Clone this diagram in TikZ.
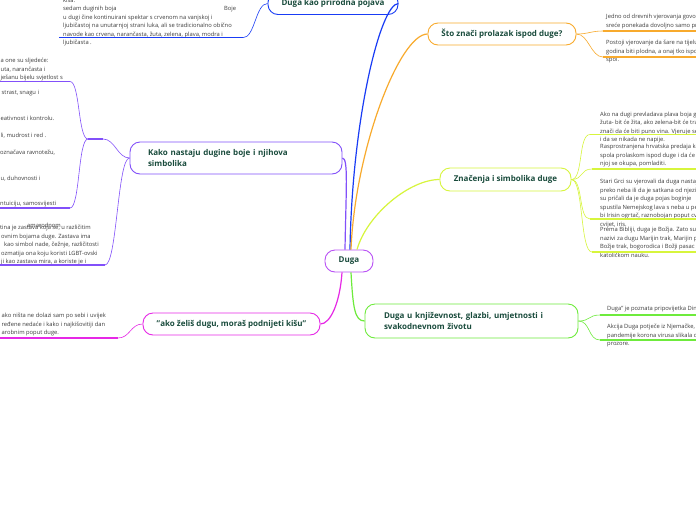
\documentclass[tikz,border=0pt]{standalone}
\usepackage{fontspec}
\setmainfont{Open Sans}
\definecolor{cblue}{RGB}{25,60,245}
\definecolor{cpurple}{RGB}{130,80,250}
\definecolor{corange}{RGB}{248,170,45}
\definecolor{cyellow}{RGB}{215,245,60}
\definecolor{cmag}{RGB}{230,40,230}
\definecolor{cgreen}{RGB}{110,235,60}
\definecolor{cduga}{RGB}{185,80,245}
\definecolor{ctitle}{RGB}{25,75,60}
\definecolor{ctext}{RGB}{60,60,60}
\begin{document}
\begin{tikzpicture}[x=1pt,y=-1pt,
  box/.style={draw, line width=0.9pt, rounded corners=10pt, fill=white, inner sep=0pt,
    font=\fontsize{8}{11}\selectfont\bfseries, text=ctitle},
  txt/.style={anchor=base west, inner sep=0pt, font=\fontsize{5.8}{8.5}\selectfont, text=ctext},
  txtb/.style={anchor=north west, inner sep=0pt, align=left, font=\fontsize{5.8}{8.5}\selectfont, text=ctext},
  mainc/.style={line width=1.2pt},
  subc/.style={line width=0.6pt},
  uline/.style={line width=1.2pt},
  junc/.style={line width=2pt}]
\useasboundingbox[fill=white] (0,0) rectangle (696,520);

% ---------- main boxes ----------
\node[box, draw=cduga, minimum width=48pt, minimum height=22pt] (duga) at (349,261) {Duga};
\node[box, draw=cblue, minimum width=130pt, minimum height=22pt] (b1) at (333,3.5) {Duga kao prirodna pojava};
\node[box, draw=cpurple, minimum height=32pt, text width=176pt, inner xsep=18pt, align=left] (kako) at (236,158) {Kako nastaju dugine boje i njihova\\simbolika};
\node[box, draw=corange, minimum width=148pt, minimum height=22pt] (o) at (502,34) {Što znači prolazak ispod duge?};
\node[box, draw=cyellow, minimum width=131pt, minimum height=23pt] (y) at (505.5,179.5) {Značenja i simbolika duge};
\node[box, draw=cmag, minimum width=177pt, minimum height=22pt] (m) at (231.5,324) {"ako želiš dugu, moraš podnijeti kišu"};
\node[box, draw=cgreen, minimum height=34pt, text width=175pt, inner xsep=19pt, align=left] (g) at (471.5,321) {Duga u književnost, glazbi, umjetnosti i\\svakodnevnom životu};

% ---------- main connectors ----------
\draw[mainc,cblue] ([xshift=1pt]duga.north) .. controls +(2,-130) and +(-18,0) .. (b1.east);
\draw[mainc,cpurple] ([xshift=-4pt]duga.north) .. controls +(1,-60) and +(6,0) .. (kako.east);
\draw[mainc,corange] ([xshift=2pt]duga.north) .. controls +(4,-100) and +(-28,0) .. (o.west);
\draw[mainc,cyellow] ([xshift=8pt]duga.north) .. controls +(10,-35) and +(-30,0) .. (y.west);
\draw[mainc,cmag] ([xshift=-7pt]duga.south) .. controls +(-2,30) and +(10,0) .. (m.east);
\draw[mainc,cgreen] ([xshift=2pt]duga.south) .. controls +(2,35) and +(-10,0) .. (g.west);

% ---------- blue branch ----------
\coordinate (bu1) at (59,37.7);
\coordinate (bu2) at (243,37.7);
\node[txtb] (bt) at (63,-3.95) {\strut kiša.\\
sedam duginih boja\\
u dugi čine kontinuirani spektar s crvenom na vanjskoj i\\
ljubičastoj na unutarnjoj strani luka, ali se tradicionalno obično\\
navode kao crvena, narančasta, žuta, zelena, plava, modra i\\
ljubičasta .};
\node[txt] (bboje) at (224,10.5) {Boje};
\draw[uline,cblue] (bu1) -- (bu2);
\draw[subc,cblue] (bu2) .. controls +(12,0) and +(-12,0) .. (b1.west);

% ---------- purple branch ----------
\coordinate (ja) at (88,139);
\coordinate (jb) at (103,139);
\draw[junc,cpurple] (ja) -- (jb);
\draw[subc,cpurple] (kako.west) .. controls +(-12,0) and +(12,0) .. (jb);

\coordinate (pu1) at (0,81.5);
\coordinate (pu2) at (70,81.5);
\node[txt] (p1) at (0.5,62.5) {a one su sljedeće:};
\node[txt] (p2) at (0.5,71) {uta, narančasta i};
\node[txt] (p3) at (0.5,79.5) {ješanu bijelu svjetlost s};
\draw[uline,cpurple] (pu1) -- (pu2);
\draw[subc,cpurple] (ja) .. controls +(-10,0) and +(10,0) .. (pu2);

\coordinate (cu1) at (0,208);
\coordinate (cu2) at (70,208);
\node[txt] (c1) at (1.5,94.5) {strast, snagu i};
\node[txt] (c2) at (0.5,120) {eativnost i kontrolu.};
\node[txt] (c3) at (0.5,137.5) {li, mudrost i red .};
\node[txt] (c4) at (0,154.5) {označava ravnotežu,};
\node[txt] (c5) at (0.5,180.5) {u, duhovnosti i};
\node[txt] (c6) at (0,205) {ntuiciju, samosvijesti};
\draw[uline,cpurple] (cu1) -- (cu2);
\draw[subc,cpurple] (ja) .. controls +(-10,0) and +(10,0) .. (cu2);

\coordinate (fu1) at (0,265);
\coordinate (fu2) at (105,265);
\node[txt] (f1) at (0,229.5) {tina je zastava koja se, u različitim};
\node[txt] (f0) at (27,227) {amarodnom};
\node[txt] (f2) at (1,238) {ovnim bojama duge. Zastava ima};
\node[txt] (f3) at (4,246.5) {kao simbol nade, čežnje, različitosti};
\node[txt] (f4) at (1,255) {ozmatija ona koju koristi LGBT-ovski};
\node[txt] (f5) at (1,263.5) {ji kao zastava mira, a koriste je i};
\draw[uline,cpurple] (fu1) -- (fu2);
\draw[subc,cpurple] (kako.west) .. controls +(-12,0) and +(12,0) .. (fu2);

% ---------- magenta branch ----------
\coordinate (mu1) at (0,338);
\coordinate (mu2) at (118,338);
\node[txtb] (mt) at (1.5,311.55) {\strut ako ništa ne dolazi sam po sebi i uvijek\\
ređene nedaće i kako i najkišovitiji dan\\
arobnim poput duge.};
\draw[uline,cmag] (mu1) -- (mu2);
\draw[subc,cmag] (mu2) .. controls +(12,0) and +(-12,0) .. (m.west);

% ---------- orange branch ----------
\coordinate (ou1) at (603,31);
\coordinate (ou2) at (700,31);
\coordinate (ov1) at (603,57);
\coordinate (ov2) at (700,57);
\node[txtb] (ot1) at (606,12.55) {\strut Jedno od drevnih vjerovanja govori kako je za\\
sreće ponekada dovoljno samo proći ispod duge.};
\node[txtb] (ot2) at (606,38.55) {\strut Postoji vjerovanje da šare na tijelu duge\\
godina biti plodna, a onaj tko ispod nje prođe\\
spol.};
\draw[uline,corange] (ou1) -- (ou2);
\draw[uline,corange] (ov1) -- (ov2);
\draw[subc,corange] (o.east) .. controls +(12,0) and +(-12,0) .. (ou1);
\draw[subc,corange] (o.east) .. controls +(12,0) and +(-12,0) .. (ov1);

% ---------- yellow branch ----------
\coordinate (ya1) at (590,134.5);
\coordinate (ya2) at (700,134.5);
\coordinate (yb1) at (592,169);
\coordinate (yb2) at (700,169);
\coordinate (yc1) at (590,219);
\coordinate (yc2) at (700,219);
\coordinate (yd1) at (592,252);
\coordinate (yd2) at (700,252);
\node[txtb] (yt1) at (600,109.85) {\strut Ako na dugi prevladava plava boja godina će biti\\
žuta- bit će žita, ako zelena-bit će trave, a crvena\\
znači da će biti puno vina. Vjeruje se da onaj\\
i da se nikada ne napije.};
\node[txtb] (yt2) at (600,142.55) {\strut Rasprostranjena hrvatska predaja kaže\\
spola prolaskom ispod duge i da će se\\
njoj se okupa, pomladiti.};
\node[txtb] (yt3) at (600,177.55) {\strut Stari Grci su vjerovali da duga nastaje\\
preko neba ili da je satkana od njezina\\
su pričali da je duga pojas boginje\\
spustila Nemejskog lava s neba u pećinu\\
bi Irisin ogrtač, raznobojan poput cvijeta\\
cvijet, iris.};
\node[txtb] (yt4) at (600,225.55) {\strut Prema Bibliji, duga je Božja. Zato su\\
nazivi za dugu Marijin trak, Marijin pas\\
Božje trak, bogorodica i Božji pasac\\
katoličkom nauku.};
\draw[uline,cyellow] (ya1) -- (ya2);
\draw[uline,cyellow] (yb1) -- (yb2);
\draw[uline,cyellow] (yc1) -- (yc2);
\draw[uline,cyellow] (yd1) -- (yd2);
\draw[subc,cyellow] (y.east) .. controls +(12,0) and +(-12,0) .. (ya1);
\draw[subc,cyellow] (y.east) .. controls +(12,0) and +(-12,0) .. (yb1);
\draw[subc,cyellow] (y.east) .. controls +(12,0) and +(-12,0) .. (yc1);
\draw[subc,cyellow] (y.east) .. controls +(12,0) and +(-12,0) .. (yd1);

% ---------- green branch ----------
\coordinate (ga1) at (600,315);
\coordinate (ga2) at (700,315);
\coordinate (gb1) at (600,340);
\coordinate (gb2) at (700,340);
\node[txtb] (gt1) at (607,304.55) {\strut Duga" je poznata pripovijetka Dinka Šimunovića.};
\node[txtb] (gt2) at (607,322.55) {\strut Akcija Duga potječe iz Njemačke, gdje su djeca za vrijeme\\
pandemije korona virusa slikala duge i stavljala ih na\\
prozore.};
\draw[uline,cgreen] (ga1) -- (ga2);
\draw[uline,cgreen] (gb1) -- (gb2);
\draw[subc,cgreen] (g.east) .. controls +(12,0) and +(-12,0) .. (ga1);
\draw[subc,cgreen] (g.east) .. controls +(12,0) and +(-12,0) .. (gb1);
\end{tikzpicture}
\end{document}
